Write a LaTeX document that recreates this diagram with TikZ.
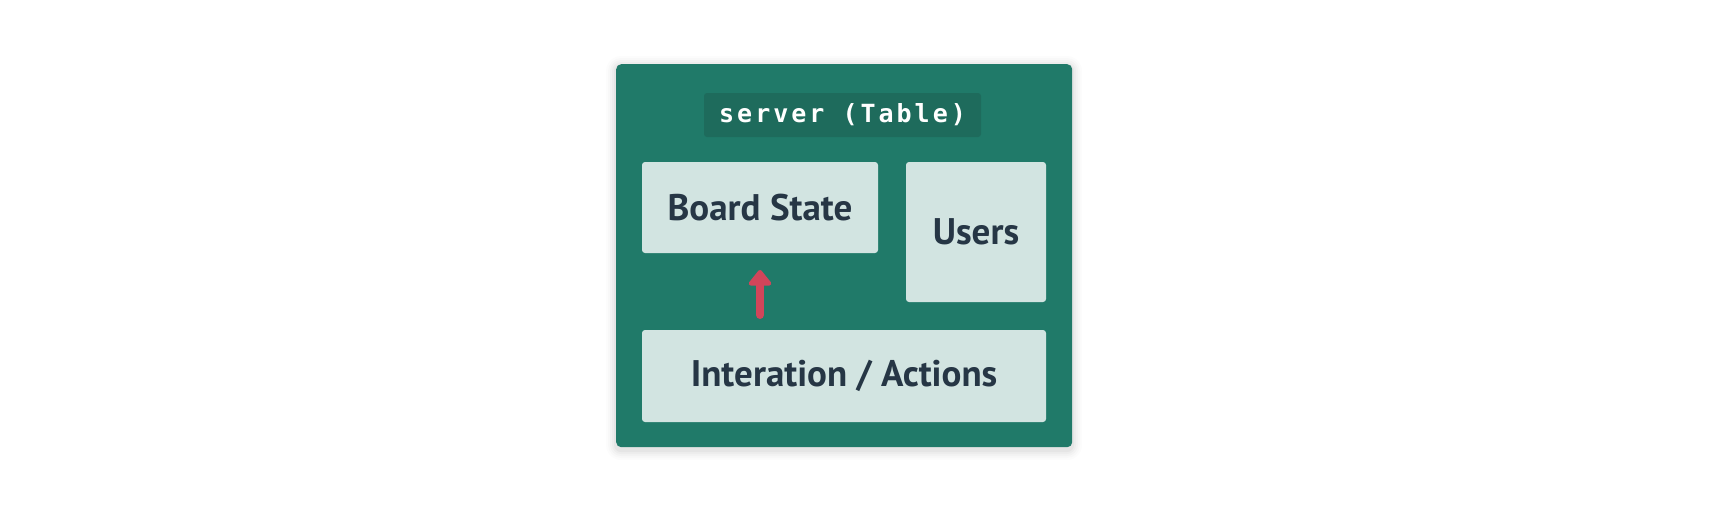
\documentclass[tikz,border=0pt]{standalone}
\usepackage{fontspec}
\setmainfont{PT Sans}
\newfontfamily\labelmono[LetterSpace=12]{DejaVu Sans Mono}
\usetikzlibrary{arrows.meta}
\definecolor{outerg}{HTML}{207A69}
\definecolor{labelg}{HTML}{1E6B5C}
\definecolor{boxc}{HTML}{D2E4E1}
\definecolor{txtc}{HTML}{263645}
\definecolor{arrc}{HTML}{D1455A}
\tikzset{
  panel/.style={fill=boxc, draw=none, rounded corners=3pt, text=txtc, inner sep=0pt, font=\fontsize{37}{40}\selectfont\bfseries},
}
\begin{document}
\begin{tikzpicture}[x=1pt,y=-1pt]
\useasboundingbox (0,0) rectangle (1712,512);
\fill[white] (0,0) rectangle (1712,512);
\foreach \s/\o in {10/0.012,8/0.015,6/0.02,4/0.025,2/0.03}{
  \fill[black, opacity=\o, rounded corners={5pt+\s pt}] (616-\s,66-\s) rectangle (1072+\s,450+\s);
}
\node[fill=outerg, rounded corners=5pt, minimum width=456pt, minimum height=383pt, anchor=north west, inner sep=0pt] (outer) at (616,64) {};
\node[fill=labelg, rounded corners=3pt, minimum width=277pt, minimum height=44pt, inner sep=0pt, text=white,
  font=\labelmono\bfseries\fontsize{25}{28}\selectfont] (lbl) at (842.5,115) {server (Table)};
\node[panel, minimum width=236pt, minimum height=91pt] (board) at (760,207.5) {Board State};
\node[panel, minimum width=140pt, minimum height=140pt] (users) at (976,232) {Users};
\node[panel, minimum width=404pt, minimum height=92pt] (inter) at (844,376) {Interation / Actions};
\coordinate (abot) at (760,315);
\coordinate (atip) at (760,270);
\draw[arrc, line width=8pt, line cap=round, -{Triangle[width=26pt,length=17pt,round]}] (abot) -- (atip);
\end{tikzpicture}
\end{document}
